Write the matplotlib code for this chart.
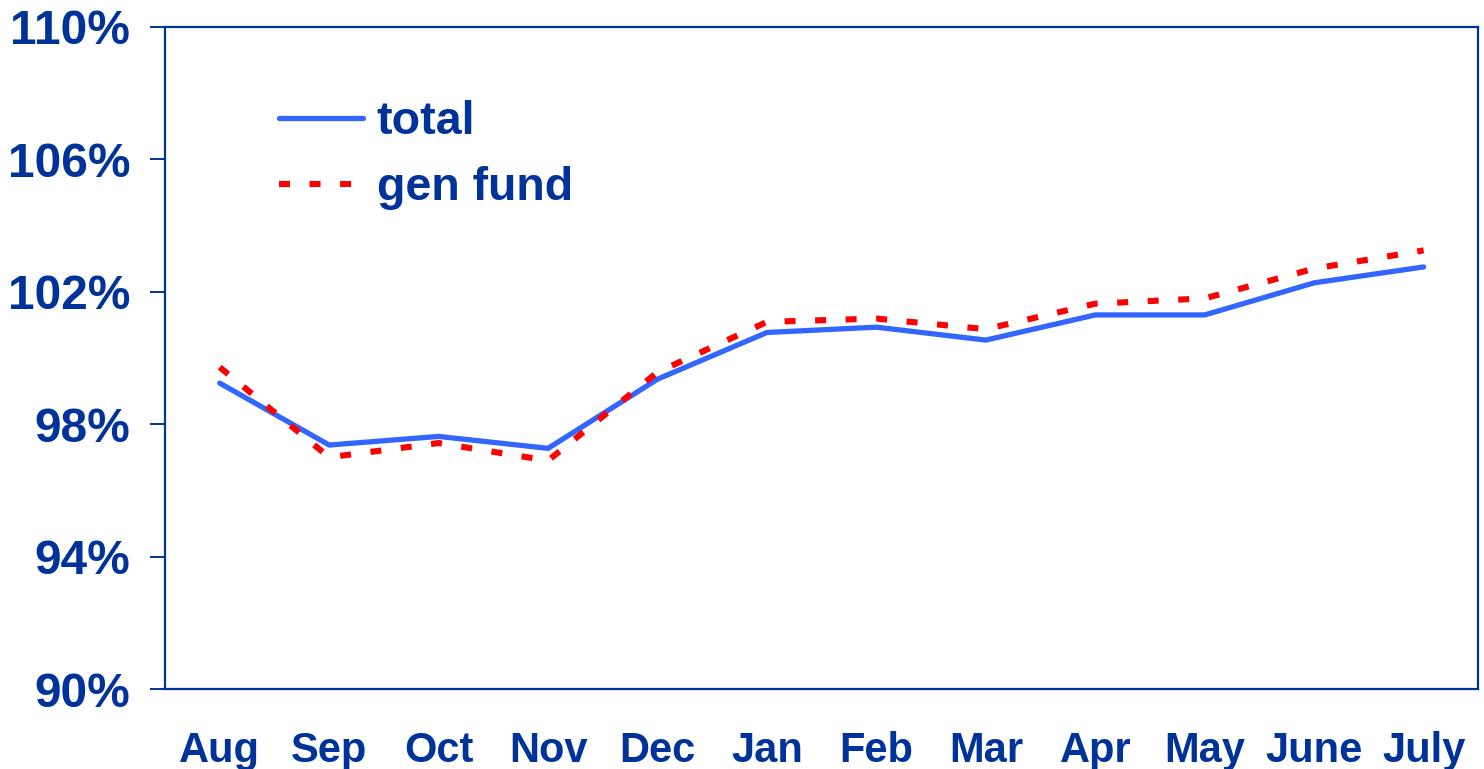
import matplotlib
matplotlib.use("Agg")
import matplotlib.pyplot as plt
from matplotlib.ticker import FuncFormatter

months = ["Aug", "Sep", "Oct", "Nov", "Dec", "Jan", "Feb", "Mar", "Apr", "May", "June", "July"]
total = [99.24, 97.37, 97.63, 97.27, 99.36, 100.77, 100.93, 100.54, 101.30, 101.30, 102.27, 102.75]
gen_fund = [99.72, 97.00, 97.43, 96.90, 99.57, 101.09, 101.19, 100.87, 101.64, 101.80, 102.70, 103.25]
yticks = [90, 94, 98, 102, 106, 110]

navy = "#003399"
plt.rcParams["font.family"] = ["Liberation Sans", "DejaVu Sans"]
plt.rcParams["font.weight"] = "bold"

fig = plt.figure(figsize=(14.84, 7.69), dpi=100)
ax = fig.add_axes([0.1112, 0.104, 0.885, 0.861])

x = range(len(months))
ax.plot(x, total, color="#3366FF", linewidth=3.8, solid_capstyle="round", label="total")
ax.plot(x, gen_fund, color="#FF0000", linewidth=4.4, dashes=(1.8, 3.2),
        dash_capstyle="butt", label="gen fund")

ax.set_xlim(-0.5, len(months) - 0.5)
ax.set_ylim(90, 110)
ax.set_yticks(yticks)
ax.yaxis.set_major_formatter(FuncFormatter(lambda v, p: f"{v:.0f}%"))
ax.set_xticks(list(x))
ax.set_xticklabels(months)

for s in ax.spines.values():
    s.set_color(navy)
    s.set_linewidth(1.6)

ax.tick_params(axis="y", direction="out", length=11, width=1.4, color=navy,
               labelcolor=navy, labelsize=34.5, pad=14)
ax.tick_params(axis="x", length=0, labelcolor=navy, labelsize=30, pad=30)

leg = ax.legend(loc="upper left", bbox_to_anchor=(0.069, 0.925), frameon=False,
                borderpad=0, handlelength=1.8, handletextpad=0.3, labelspacing=0.48,
                prop={"size": 33.5, "weight": "bold"})
for t in leg.get_texts():
    t.set_color(navy)

fig.savefig("out.png", dpi=100)
